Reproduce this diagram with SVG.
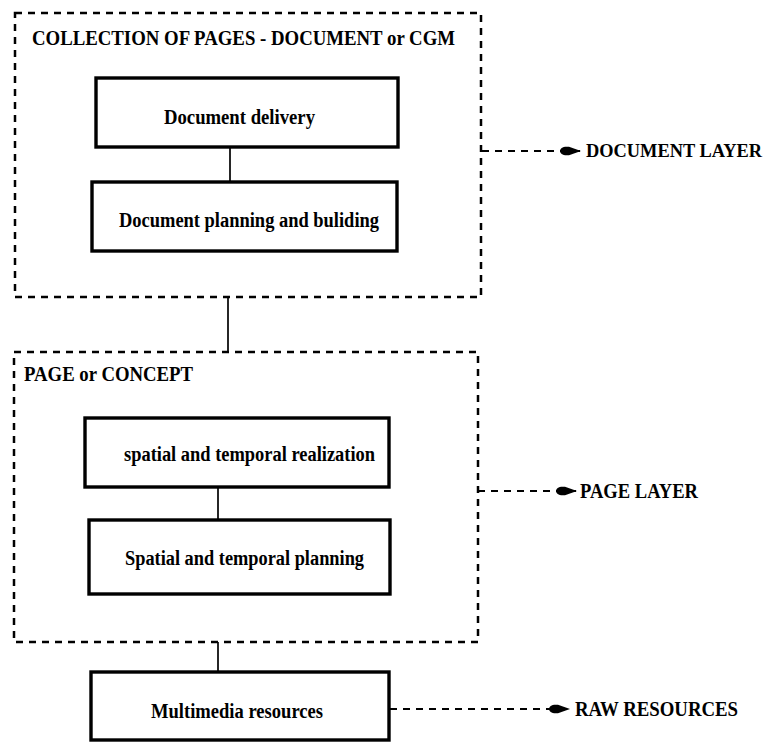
<svg xmlns="http://www.w3.org/2000/svg" width="772" height="742" viewBox="0 0 772 742">
  <style>
    .frame { fill: none; stroke: #000; stroke-width: 2.5; stroke-dasharray: 7 6; }
    .box { fill: #fff; stroke: #000; stroke-width: 3.4; }
    .link { fill: none; stroke: #000; stroke-width: 1.7; }
    .lead { fill: none; stroke: #000; stroke-width: 2.2; stroke-dasharray: 7 6; }
    text { font-family: "Liberation Serif", "Times New Roman", serif; font-weight: bold; font-size: 20px; fill: #000; }
    .title { font-size: 21px; }
    .edge { font-size: 18px; }
  </style>
  <defs>
    <marker id="dart" markerWidth="24" markerHeight="12" refX="22" refY="6" orient="auto" markerUnits="userSpaceOnUse">
      <path d="M22,6 L10,1.8 C4,1 1,3.5 1,6 C1,8.5 4,11 10,10.2 Z" fill="#000"/>
    </marker>
  </defs>

  <!-- connectors -->
  <g id="connectors">
    <line class="link" x1="230" y1="147" x2="230" y2="182"/>
    <line class="link" x1="228" y1="297" x2="228" y2="352"/>
    <line class="link" x1="218" y1="487" x2="218" y2="520"/>
    <line class="link" x1="218" y1="642" x2="218" y2="672"/>
    <line class="lead" x1="482" y1="151" x2="581" y2="151" marker-end="url(#dart)"/>
    <line class="lead" x1="478" y1="491" x2="577" y2="491" marker-end="url(#dart)"/>
    <line class="lead" x1="390" y1="709" x2="570" y2="709" marker-end="url(#dart)"/>
  </g>

  <!-- document layer -->
  <g id="document-frame">
    <rect class="frame" x="15" y="13" width="466" height="284"/>
    <text class="title" x="32" y="45" textLength="423" lengthAdjust="spacingAndGlyphs">COLLECTION OF PAGES - DOCUMENT or CGM</text>
  </g>
  <g id="document-delivery">
    <rect class="box" x="96" y="78" width="302" height="69"/>
    <text x="164" y="124" textLength="151" lengthAdjust="spacingAndGlyphs">Document delivery</text>
  </g>
  <g id="document-planning">
    <rect class="box" x="92" y="182" width="305" height="69"/>
    <text x="119" y="227" textLength="260" lengthAdjust="spacingAndGlyphs">Document planning and buliding</text>
  </g>

  <!-- page layer -->
  <g id="page-frame">
    <rect class="frame" x="14" y="352" width="464" height="290"/>
    <text class="title" x="24" y="381" textLength="169" lengthAdjust="spacingAndGlyphs">PAGE or CONCEPT</text>
  </g>
  <g id="spatial-realization">
    <rect class="box" x="85" y="418" width="304" height="69"/>
    <text x="124" y="461" textLength="251" lengthAdjust="spacingAndGlyphs">spatial and temporal realization</text>
  </g>
  <g id="spatial-planning">
    <rect class="box" x="89" y="520" width="301" height="74"/>
    <text x="125" y="565" textLength="239" lengthAdjust="spacingAndGlyphs">Spatial and temporal planning</text>
  </g>

  <!-- raw resources -->
  <g id="multimedia-resources">
    <rect class="box" x="91" y="672" width="298" height="68"/>
    <text x="151" y="718" textLength="172" lengthAdjust="spacingAndGlyphs">Multimedia resources</text>
  </g>

  <!-- layer labels -->
  <g id="label-document-layer">
    <text class="edge" x="586" y="157" textLength="176" lengthAdjust="spacingAndGlyphs">DOCUMENT LAYER</text>
  </g>
  <g id="label-page-layer">
    <text x="580" y="498" textLength="118" lengthAdjust="spacingAndGlyphs">PAGE LAYER</text>
  </g>
  <g id="label-raw-resources">
    <text x="575" y="716" textLength="163" lengthAdjust="spacingAndGlyphs">RAW RESOURCES</text>
  </g>
</svg>
